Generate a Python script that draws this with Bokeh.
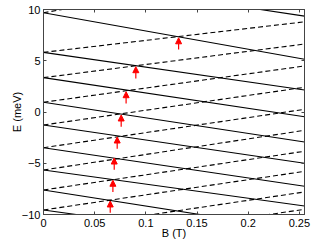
from bokeh.plotting import figure
from bokeh.models import (Range1d, FixedTicker, LinearAxis, Arrow, NormalHead,
                          ColumnDataSource, CustomLabelingPolicy)
from bokeh.embed import file_html
from bokeh.resources import INLINE

# ---- data ----
B_MAX = 0.255
x_ticks = [0, 0.05, 0.1, 0.15, 0.2, 0.25]
x_tick_labels = ["0", "0.05", "0.1", "0.15", "0.2", "0.25"]
y_ticks = [-10, -5, 0, 5, 10]
y_tick_labels = ["\u221210", "\u22125", "0", "5", "10"]

# solid levels (decreasing with B): energy at B=0 and at B=B_MAX
solid_E0 = [13.2, 9.69, 5.82, 3.35, 0.95, -1.27, -3.48, -5.66, -7.61, -9.56]
solid_E1 = [9.35, 5.15, 2.15, -0.46, -2.93, -5.0, -7.25, -9.17, -11.6, -13.1]
# dashed levels (increasing with B)
dashed_E0 = [9.69, 5.82, 3.35, 0.95, -1.27, -3.48, -5.66, -7.61, -9.56, -11.58, -13.27]
dashed_E1 = [14.0, 8.8, 6.63, 4.49, 2.41, 0.26, -1.79, -3.83, -5.79, -7.80, -9.49]

# red arrows: field position and energy of the arrow tip
arrow_B = [0.0652, 0.0678, 0.0691, 0.072, 0.0759, 0.0807, 0.0902, 0.132]
arrow_E = [-8.68, -6.66, -4.49, -2.44, -0.29, 1.98, 4.42, 7.24]
ARROW_LEN = 1.15

FONT = "Liberation Sans"
AX_COLOR = "#444444"

p = figure(width=317, height=244, x_range=Range1d(0, B_MAX), y_range=Range1d(-10, 10),
           output_backend="svg", toolbar_location=None,
           min_border_left=43, min_border_right=13, min_border_top=9, min_border_bottom=30)
p.grid.visible = False
p.outline_line_color = AX_COLOR
p.outline_line_width = 1
p.background_fill_color = "white"

solid_src = ColumnDataSource(dict(xs=[[0, B_MAX] for _ in solid_E0],
                                  ys=[[a, b] for a, b in zip(solid_E0, solid_E1)]))
dashed_src = ColumnDataSource(dict(xs=[[0, B_MAX] for _ in dashed_E0],
                                   ys=[[a, b] for a, b in zip(dashed_E0, dashed_E1)]))
p.multi_line("xs", "ys", source=solid_src, line_color="black", line_width=1.1)
p.multi_line("xs", "ys", source=dashed_src, line_color="black", line_width=1.1, line_dash="5 3")

arr_src = ColumnDataSource(dict(x0=arrow_B, y0=[e - ARROW_LEN for e in arrow_E],
                                x1=arrow_B, y1=arrow_E))
p.add_layout(Arrow(end=NormalHead(size=6, fill_color="red", line_color="red", line_width=1),
                   x_start="x0", y_start="y0", x_end="x1", y_end="y1",
                   source=arr_src, line_color="red", line_width=1.2))

def style_axis(ax, size="11px"):
    ax.axis_line_color = AX_COLOR
    ax.major_tick_in = 3
    ax.major_tick_out = 0
    ax.minor_tick_line_color = None
    ax.major_tick_line_color = AX_COLOR
    ax.major_label_text_font = FONT
    ax.major_label_text_font_size = size
    ax.major_label_text_color = "black"
    ax.axis_label_text_font = FONT
    ax.axis_label_text_font_size = "11px"
    ax.axis_label_text_font_style = "normal"
    ax.axis_label_text_color = "black"

xb = p.xaxis[0]
yl = p.yaxis[0]
xb.ticker = FixedTicker(ticks=x_ticks)
yl.ticker = FixedTicker(ticks=y_ticks)
xb.major_label_overrides = dict(zip(x_ticks, x_tick_labels))
yl.major_label_overrides = dict(zip(y_ticks, y_tick_labels))
style_axis(xb)
style_axis(yl)
xb.axis_label = "B (T)"
yl.axis_label = "E (meV)"
xb.major_label_standoff = 4
xb.axis_label_standoff = -3
yl.major_label_standoff = 3
yl.axis_label_standoff = -4

hide_all = CustomLabelingPolicy(code="""
    for (const i of indices) { indices.unset(i) }
    return indices
""")
xt = LinearAxis(ticker=FixedTicker(ticks=x_ticks))
yr = LinearAxis(ticker=FixedTicker(ticks=y_ticks))
for ax in (xt, yr):
    style_axis(ax, size="0px")
    ax.major_label_policy = hide_all
    ax.major_label_standoff = 0
p.add_layout(xt, "above")
p.add_layout(yr, "right")

open("out.html", "w").write(file_html(p, INLINE))
